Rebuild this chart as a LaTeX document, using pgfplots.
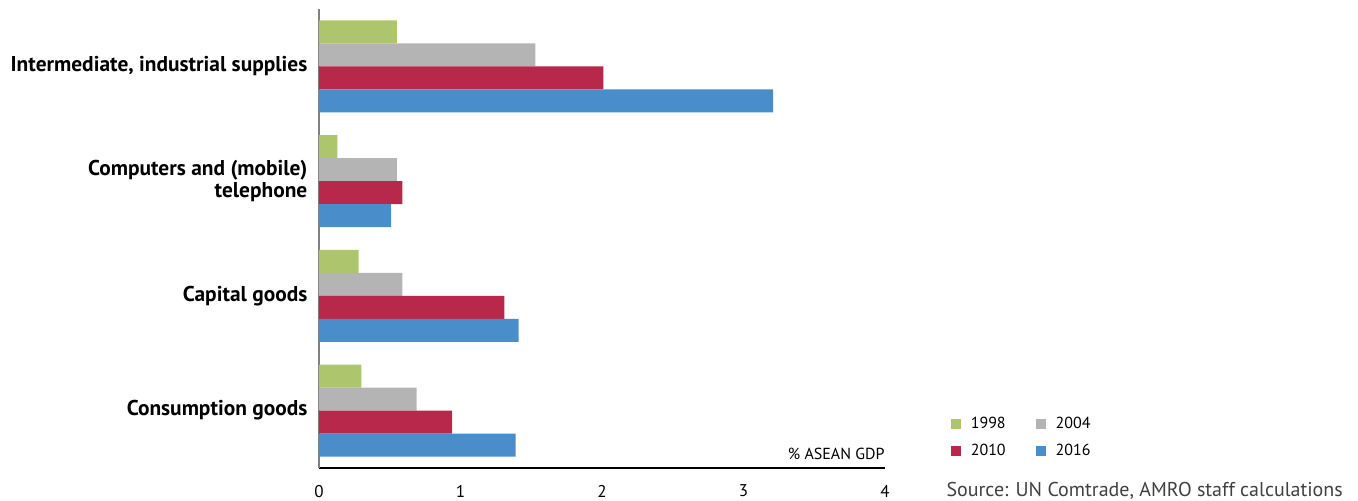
\documentclass[border=0pt]{standalone}
\usepackage{pgfplots}
\pgfplotsset{compat=1.18}
\usepackage{fontspec}
\setmainfont{PT Sans}
\definecolor{cA}{HTML}{ADC66E}
\definecolor{cB}{HTML}{B3B4B3}
\definecolor{cC}{HTML}{B7284B}
\definecolor{cD}{HTML}{4A8DCB}
\begin{document}
\begin{tikzpicture}
\useasboundingbox (-159.5pt,-16.5pt) rectangle (519.5pt,234pt);
\begin{axis}[
  at={(0,0)}, anchor=south west,
  scale only axis, width=283pt, height=229.5pt,
  xmin=0, xmax=4, ymin=-0.5, ymax=3.5,
  xbar, bar width=0.2,
  axis x line*=bottom, axis y line*=left,
  x axis line style={black, line width=0.7pt},
  y axis line style={gray, line width=1pt},
  xtick={0,1,2,3,4}, ytick={0,1,2,3},
  yticklabels={Consumption goods, Capital goods, {Computers and (mobile)\\telephone}, {Intermediate, industrial supplies}},
  major tick length=0pt,
  /pgf/number format/assume math mode=true,
  xticklabel style={font=\fontsize{8.5}{10}\selectfont, yshift=-5pt},
  yticklabel style={font=\fontsize{10.7}{11.3}\selectfont\bfseries, align=right, xshift=-2.3pt},
  xlabel={\% ASEAN GDP},
  xlabel style={at={(rel axis cs:1,0)}, anchor=south east, inner sep=0pt, font=\fontsize{8}{9}\selectfont, yshift=4pt},
  clip=false,
  legend columns=2,
  legend style={draw=none, at={(rel axis cs:1.105,0.13)}, anchor=north west,
    font=\fontsize{8}{9}\selectfont, column sep=3pt, row sep=2.5pt,
    /tikz/every even column/.append style={column sep=13pt}},
  legend image code/.code={\fill (0pt,-2.5pt) rectangle (5pt,2.5pt);},
]
\addplot[draw=none, fill=cA, bar shift=0.3] coordinates {(0.30,0) (0.28,1) (0.13,2) (0.55,3)};
\addlegendentry{1998}
\addplot[draw=none, fill=cB, bar shift=0.1] coordinates {(0.69,0) (0.59,1) (0.55,2) (1.53,3)};
\addlegendentry{2004}
\addplot[draw=none, fill=cC, bar shift=-0.1] coordinates {(0.94,0) (1.31,1) (0.59,2) (2.01,3)};
\addlegendentry{2010}
\addplot[draw=none, fill=cD, bar shift=-0.3] coordinates {(1.39,0) (1.41,1) (0.51,2) (3.21,3)};
\addlegendentry{2016}
\node[anchor=base west, inner sep=0pt, font=\fontsize{10}{11}\selectfont, text=black!75] at (rel axis cs:1.108,-0.063) {Source: UN Comtrade, AMRO staff calculations};
\end{axis}
\end{tikzpicture}
\end{document}
